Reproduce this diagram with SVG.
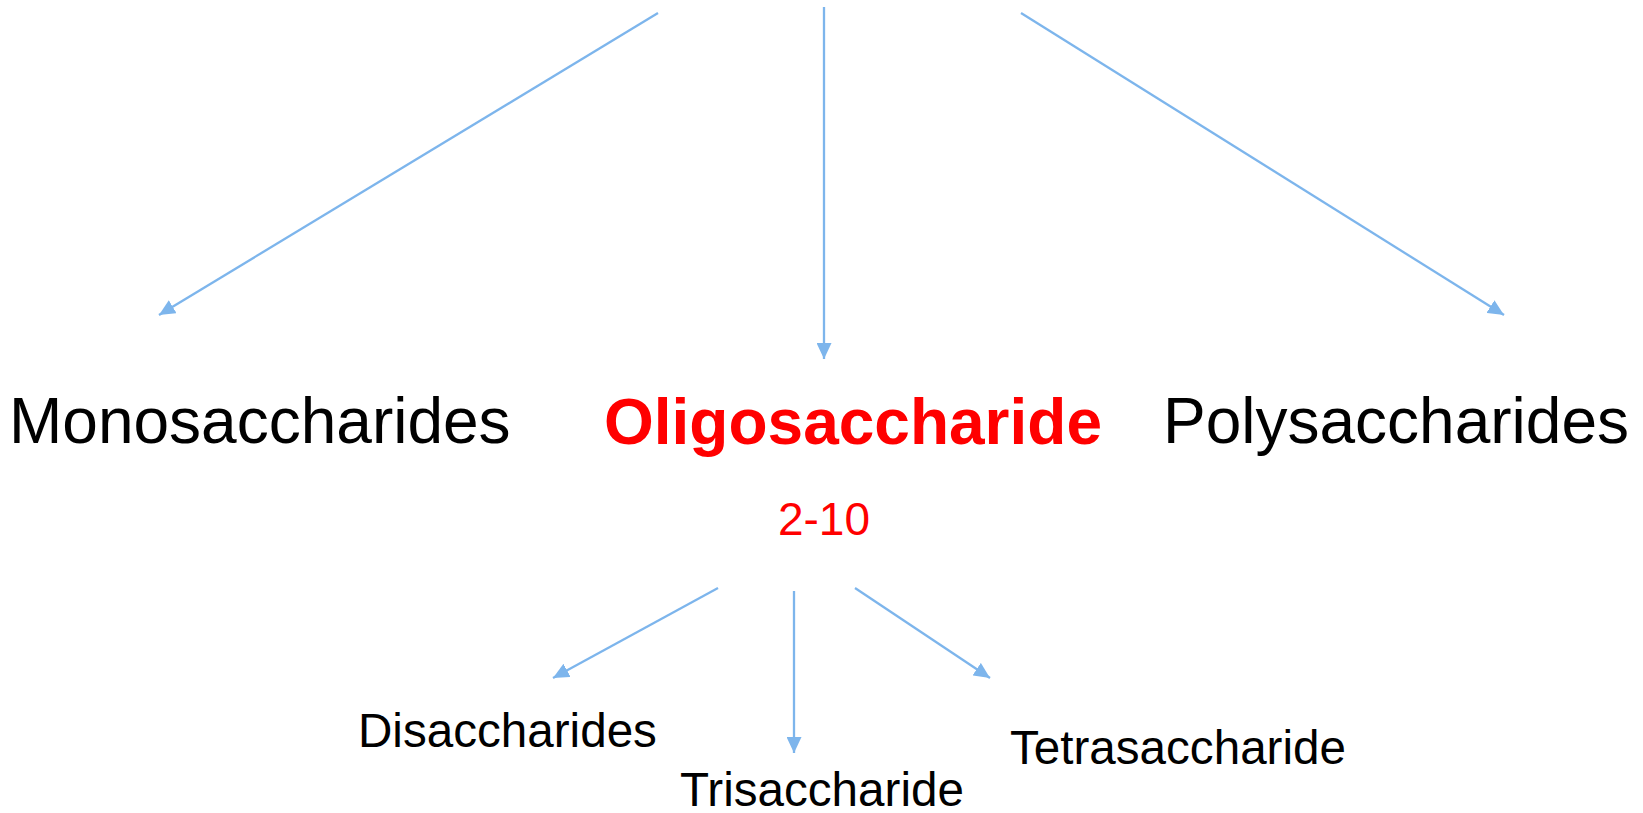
<svg xmlns="http://www.w3.org/2000/svg" width="1643" height="813" viewBox="0 0 1643 813">
  <style>
    .link { stroke: #7db5ec; stroke-width: 2.3; fill: none; marker-end: url(#head); }
    .big { font-family: "Liberation Sans", Arial, sans-serif; font-size: 64px; fill: #000; }
    .small { font-family: "Liberation Sans", Arial, sans-serif; font-size: 47.6px; fill: #000; }
    .hl { font-family: "Liberation Sans", Arial, sans-serif; font-size: 64px; font-weight: bold; fill: #ff0000; }
    .range { font-family: "Liberation Sans", Arial, sans-serif; font-size: 46px; fill: #ff0000; }
  </style>
  <defs>
    <marker id="head" markerUnits="userSpaceOnUse" viewBox="0 0 16 15" markerWidth="16" markerHeight="15" refX="16" refY="7.5" orient="auto">
      <path d="M0,0 L16,7.5 L0,15 Z" fill="#7db5ec"/>
    </marker>
  </defs>
  <rect width="1643" height="813" fill="#ffffff"/>

  <!-- connectors -->
  <g id="connectors">
    <line class="link" x1="658" y1="13" x2="159" y2="315"/>
    <line class="link" x1="824" y1="7" x2="824" y2="359"/>
    <line class="link" x1="1021" y1="13" x2="1504" y2="315"/>
    <line class="link" x1="718" y1="588" x2="553" y2="678"/>
    <line class="link" x1="794" y1="591" x2="794" y2="753"/>
    <line class="link" x1="855" y1="588" x2="990" y2="678"/>
  </g>

  <!-- category row -->
  <g id="monosaccharides">
    <text class="big" x="9" y="443">Monosaccharides</text>
  </g>
  <g id="oligosaccharide">
    <text class="hl" x="604" y="444">Oligosaccharide</text>
    <text class="range" x="824" y="535" text-anchor="middle">2-10</text>
  </g>
  <g id="polysaccharides">
    <text class="big" x="1163" y="443">Polysaccharides</text>
  </g>

  <!-- oligosaccharide subtypes -->
  <g id="disaccharides">
    <text class="small" x="358" y="747">Disaccharides</text>
  </g>
  <g id="trisaccharide">
    <text class="small" x="680" y="806">Trisaccharide</text>
  </g>
  <g id="tetrasaccharide">
    <text class="small" x="1010" y="764">Tetrasaccharide</text>
  </g>
</svg>
